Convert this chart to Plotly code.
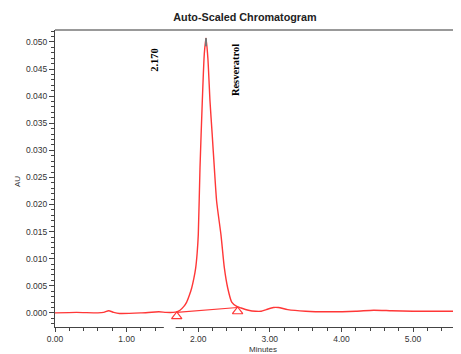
import plotly.graph_objects as go

# ---- data ----
time_min = [0.00, 0.30, 0.60, 0.68, 0.75, 0.82, 0.90, 1.20, 1.45, 1.55, 1.65, 1.70,
            1.746, 1.80, 1.839, 1.875, 1.909, 1.94, 1.965, 1.985, 2.001, 2.025, 2.057,
            2.085, 2.109, 2.135, 2.165, 2.195, 2.225, 2.258, 2.318, 2.365, 2.412,
            2.468, 2.538, 2.60, 2.70, 2.80, 2.88, 2.95, 3.05, 3.12, 3.25, 3.50,
            3.80, 4.20, 4.45, 4.70, 5.00, 5.30, 5.70]
absorbance = [0.0000, 0.0001, 0.0000, 0.0001, 0.0004, 0.0001, -0.0001, 0.0000, 0.0002,
              0.0001, 0.0001, 0.0002, 0.0005, 0.0012, 0.0020, 0.0032, 0.0046, 0.0064,
              0.0083, 0.0110, 0.0144, 0.0268, 0.0390, 0.0478, 0.0507, 0.0470, 0.0390,
              0.0330, 0.0268, 0.0205, 0.0144, 0.0083, 0.0046, 0.0020, 0.0012, 0.0009,
              0.0005, 0.0003, 0.0003, 0.0006, 0.0010, 0.0010, 0.0006, 0.0003, 0.0002,
              0.0003, 0.0005, 0.0004, 0.0003, 0.0003, 0.0003]

baseline_time = [1.70, 2.55]
baseline_au = [0.0001, 0.0010]

apex_time = [2.109, 2.109]
apex_au = [0.0507, 0.0492]

peak_labels = ["2.170", "Resveratrol"]
label_time = [1.397, 2.514]
label_au = [0.0467, 0.0448]

x_tick_vals = [0, 1, 2, 3, 4, 5]
y_tick_vals = [0.000, 0.005, 0.010, 0.015, 0.020, 0.025, 0.030, 0.035, 0.040, 0.045, 0.050]

RED = "rgb(255,55,55)"
AX = "#444"
px_per_au = 5420.0
tri_offset = 4.0 / px_per_au  # triangle apex sits on the baseline point

# page has an 8px body margin; figure sized so the plot area lands where the reference has it
W, H = 453, 346
ML, MR, MT, MB = 47, 0, 22, 27
PW, PH = W - ML - MR, H - MT - MB

fig = go.Figure()
fig.add_trace(go.Scatter(x=time_min, y=absorbance, mode="lines",
                         line=dict(color=RED, width=1.4, shape="spline", smoothing=0.6),
                         hoverinfo="skip"))
fig.add_trace(go.Scatter(x=baseline_time, y=baseline_au, mode="lines",
                         line=dict(color=RED, width=1.2), hoverinfo="skip"))
fig.add_trace(go.Scatter(x=baseline_time, y=[v - tri_offset for v in baseline_au],
                         mode="markers",
                         marker=dict(symbol="triangle-up-open", size=9, color=RED,
                                     line=dict(color=RED, width=1.2)),
                         hoverinfo="skip"))
fig.add_trace(go.Scatter(x=apex_time, y=apex_au, mode="lines",
                         line=dict(color="#777", width=2), hoverinfo="skip"))

for txt, t, a in zip(peak_labels, label_time, label_au):
    fig.add_annotation(x=t, y=a, text="<b>" + txt + "</b>", textangle=-90,
                       showarrow=False,
                       font=dict(family="Liberation Serif, Times New Roman", size=10.5,
                                 color="black"))

tick_font = dict(family="Liberation Sans, Arial", size=8.5, color="#333")

fig.update_layout(
    width=W, height=H,
    margin=dict(l=ML, r=MR, t=MT, b=MB, autoexpand=False),
    paper_bgcolor="white", plot_bgcolor="white",
    showlegend=False,
    title=dict(text="<b>Auto-Scaled Chromatogram</b>", x=237 / W, xanchor="center",
               y=1 - 9.7 / H, yanchor="middle",
               font=dict(family="Liberation Sans, Arial", size=10.8, color="#222")),
    xaxis=dict(range=[0, 5.67], tickvals=x_tick_vals, tickformat=".2f",
               ticks="outside", ticklen=4, tickwidth=1, tickcolor=AX,
               minor=dict(dtick=0.2, ticks="outside", ticklen=3, tickcolor=AX),
               showline=True, linecolor=AX, linewidth=1.2,
               showgrid=False, zeroline=False, tickfont=tick_font),
    yaxis=dict(range=[-0.0026, 0.0522], tickvals=y_tick_vals, tickformat=".3f",
               ticks="outside", ticklen=5, tickwidth=1, tickcolor=AX,
               minor=dict(dtick=0.001, ticks="outside", ticklen=3, tickcolor=AX),
               showline=True, linecolor=AX, linewidth=1.2,
               showgrid=False, zeroline=False, tickfont=tick_font),
)

# top frame line
fig.add_shape(type="line", xref="paper", yref="paper", x0=0, x1=1, y0=1, y1=1,
              line=dict(color="#777", width=1.5))
# gap in the time axis
fig.add_shape(type="rect", xref="x", yref="paper", x0=1.52, x1=1.685, y0=-0.03, y1=0.004,
              fillcolor="white", line=dict(width=0), layer="above")

fig.add_annotation(text="AU", xref="paper", yref="paper", x=(17 - 55) / PW,
                   y=(327 - 182) / PH, textangle=-90, showarrow=False, xanchor="center",
                   font=dict(family="Liberation Sans, Arial", size=8, color="#333"))
fig.add_annotation(text="Minutes", xref="paper", yref="paper", x=(263 - 55) / PW,
                   y=(327 - 343) / PH, yanchor="top", showarrow=False,
                   font=dict(family="Liberation Sans, Arial", size=8, color="#333"))

fig.write_html("out.html")
